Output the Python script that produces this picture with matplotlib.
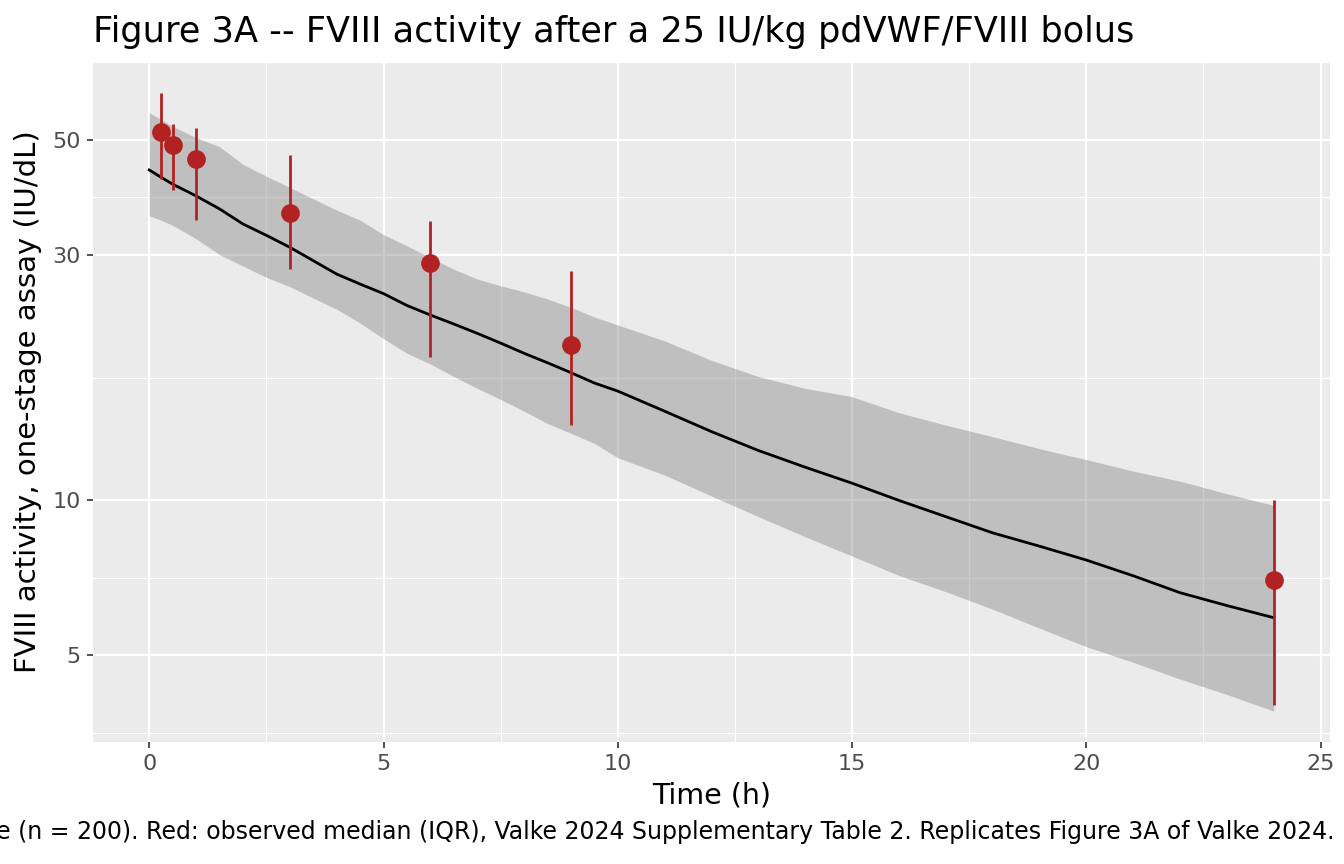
import matplotlib
matplotlib.use('Agg')
import matplotlib.pyplot as plt
import numpy as np

# Simulated median and 90% band
sim_time = [0, 0.25, 0.5, 1, 1.5, 2, 2.5, 3, 3.5, 4, 4.5, 5, 5.5, 6, 6.5, 7, 7.5, 8,
            8.5, 9, 9.5, 10, 11, 12, 13, 14, 15, 16, 17, 18, 19, 20, 21, 22, 23, 24]
sim_median = [43.8, 42.4, 41.1, 39.0, 36.8, 34.4, 32.7, 31.0, 29.2, 27.5, 26.3, 25.2,
              23.9, 22.9, 22.0, 21.1, 20.2, 19.3, 18.5, 17.7, 16.9, 16.3, 14.9, 13.6,
              12.5, 11.6, 10.8, 10.0, 9.3, 8.65, 8.15, 7.66, 7.14, 6.62, 6.25, 5.92]
sim_upper = [56.6, 54.9, 53.2, 50.6, 48.6, 44.9, 42.6, 40.5, 38.5, 36.6, 35.0, 32.8,
             31.2, 29.6, 28.1, 26.9, 26.1, 25.4, 24.6, 23.7, 22.7, 21.9, 20.4, 18.7,
             17.4, 16.5, 15.9, 14.8, 14.0, 13.3, 12.6, 12.0, 11.4, 10.9, 10.3, 9.78]
sim_lower = [35.7, 35.0, 34.2, 32.2, 30.0, 28.5, 27.1, 26.0, 24.7, 23.5, 22.1, 20.6,
             19.3, 18.4, 17.4, 16.5, 15.7, 14.9, 14.1, 13.5, 12.9, 12.1, 11.2, 10.2,
             9.3, 8.5, 7.8, 7.15, 6.65, 6.15, 5.65, 5.2, 4.85, 4.5, 4.2, 3.9]

# Observed median (IQR)
obs_time = [0.25, 0.5, 1, 3, 6, 9, 24]
obs_median = [52.0, 49.0, 46.0, 36.1, 28.9, 20.0, 7.0]
obs_q1 = [42.0, 40.0, 35.0, 28.1, 19.0, 14.0, 4.0]
obs_q3 = [61.8, 53.9, 52.9, 46.8, 34.9, 27.9, 10.0]

y_breaks = [5, 10, 30, 50]
x_breaks = [0, 5, 10, 15, 20, 25]

title = "Figure 3A -- FVIII activity after a 25 IU/kg pdVWF/FVIII bolus"
caption = ("Black line and grey band: simulated median and 90% prediction interval, "
           "virtual cohort with type 1 von Willebrand disease (n = 200). "
           "Red: observed median (IQR), Valke 2024 Supplementary Table 2. "
           "Replicates Figure 3A of Valke 2024.")

fig = plt.figure(figsize=(13.44, 8.64), dpi=100)
ax = fig.add_axes([93 / 1344, 1 - 742 / 864, (1330 - 93) / 1344, (742 - 62) / 864])
ax.set_facecolor('#EBEBEB')

ax.fill_between(sim_time, sim_lower, sim_upper, color='#7F7F7F', alpha=0.4,
                linewidth=0, zorder=2)
ax.plot(sim_time, sim_median, color='black', linewidth=2.0, zorder=3)
ax.vlines(obs_time, obs_q1, obs_q3, color='#B22222', linewidth=2.0, zorder=4)
ax.plot(obs_time, obs_median, 'o', color='#B22222', markersize=13.5,
        markeredgewidth=0, zorder=5)

ax.set_yscale('log')

# ggplot-like 5% expansion
all_x = np.array(sim_time + obs_time)
xr = all_x.max() - all_x.min()
ax.set_xlim(all_x.min() - 0.05 * xr, all_x.max() + 0.05 * xr)
all_y = np.log10(np.array(sim_lower + sim_upper + obs_q1 + obs_q3))
yr = all_y.max() - all_y.min()
ylo, yhi = all_y.min() - 0.05 * yr, all_y.max() + 0.05 * yr
ax.set_ylim(10 ** ylo, 10 ** yhi)

# major / minor breaks
lb = np.log10(y_breaks)
ext = np.concatenate([[lb[0] - (lb[1] - lb[0])], lb])
y_minor = list(10 ** ((ext[:-1] + ext[1:]) / 2)) + [10 ** yhi]
ax.set_yticks(y_breaks)
ax.set_yticklabels([str(b) for b in y_breaks])
ax.set_yticks(y_minor, minor=True)
ax.set_xticks(x_breaks)
ax.set_xticks([2.5, 7.5, 12.5, 17.5, 22.5], minor=True)
ax.yaxis.set_minor_formatter(matplotlib.ticker.NullFormatter())

ax.grid(True, which='major', color='white', linewidth=1.6, zorder=1)
ax.grid(True, which='minor', color='white', linewidth=0.8, zorder=1)
ax.set_axisbelow(True)
for s in ax.spines.values():
    s.set_visible(False)

ax.tick_params(which='major', length=4, width=1.2, color='#333333',
               labelcolor='#4D4D4D', labelsize=16, pad=5)
ax.tick_params(which='minor', length=0)

ax.set_xlabel('Time (h)', fontsize=20.5, labelpad=5)
ax.set_ylabel('FVIII activity, one-stage assay (IU/dL)', fontsize=21, labelpad=7)

fig.text(93 / 1344, 1 - 42 / 864, title, fontsize=25.3, ha='left', va='baseline')
fig.text(1334 / 1344, 1 - 839 / 864, caption, fontsize=17, ha='right', va='baseline')

fig.savefig('out.png', dpi=100)
plt.close(fig)
